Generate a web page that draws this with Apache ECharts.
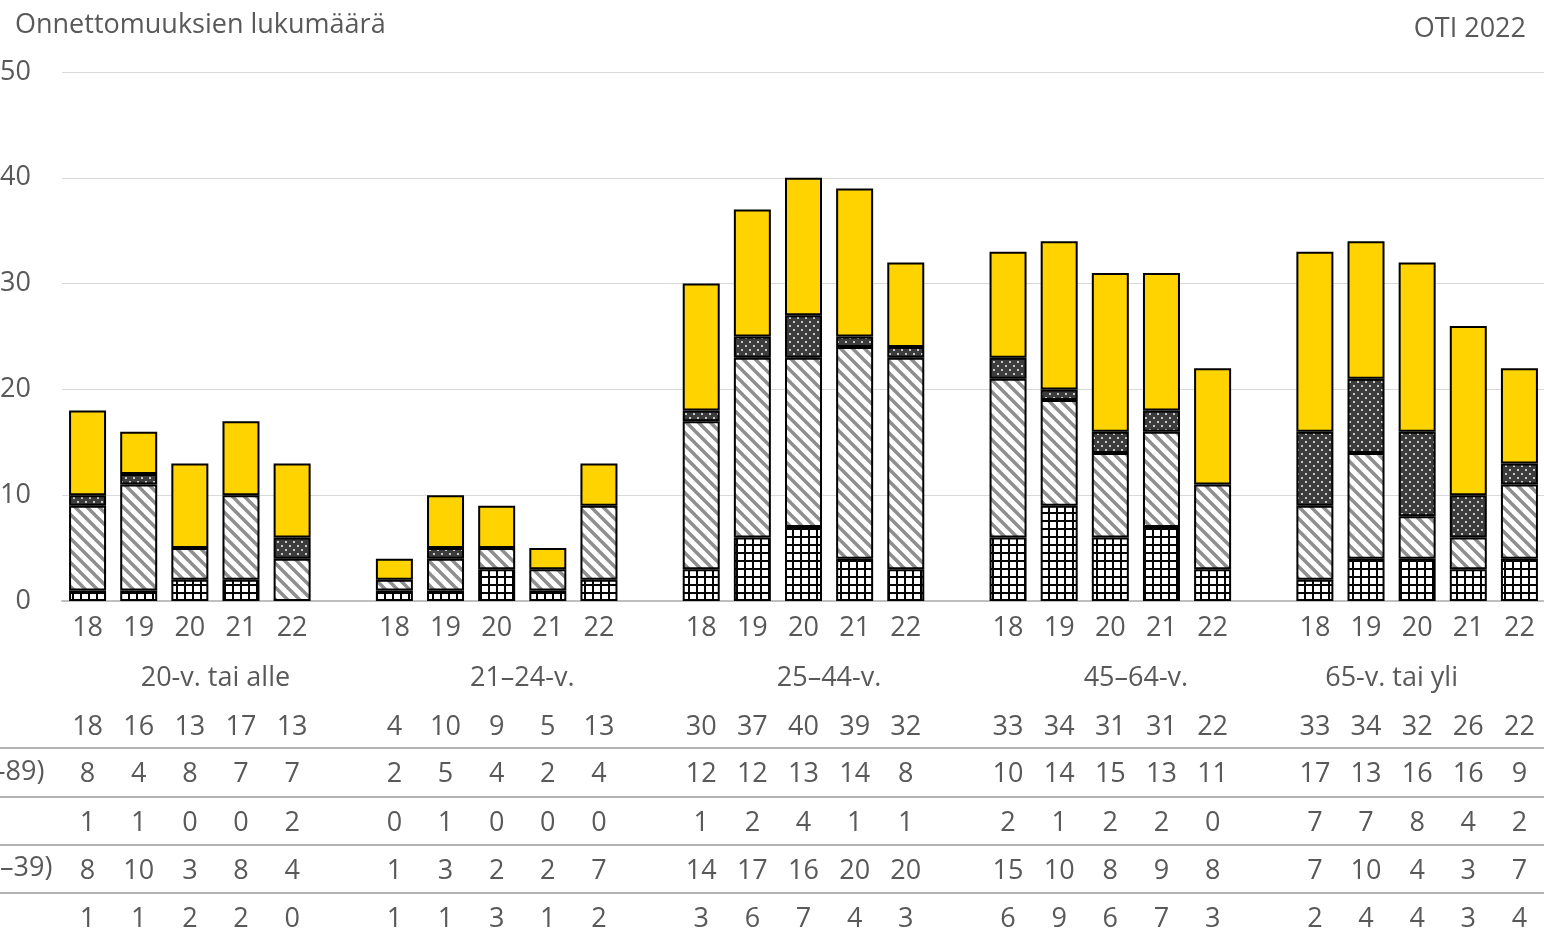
<!DOCTYPE html>
<html>
<head>
<meta charset="utf-8">
<script src="https://cdn.jsdelivr.net/npm/echarts@6/dist/echarts.min.js"></script>
<style>
  html, body { margin: 0; padding: 0; background: #fff; }
  #chart { width: 1544px; height: 939px; }
</style>
</head>
<body>
<div id="chart"></div>
<script>
// ikäryhmät ja vuodet
const groups = ['20-v. tai alle', '21–24-v.', '25–44-v.', '45–64-v.', '65-v. tai yli']
const years = ['18', '19', '20', '21', '22']
const yTicks = [0, 10, 20, 30, 40, 50]

// taulukon rivit (5 vuotta / ryhmä)
const yellowVals = [8, 4, 8, 7, 7, 2, 5, 4, 2, 4, 12, 12, 13, 14, 8, 10, 14, 15, 13, 11, 17, 13, 16, 16, 9]
const dottedVals = [1, 1, 0, 0, 2, 0, 1, 0, 0, 0, 1, 2, 4, 1, 1, 2, 1, 2, 2, 0, 7, 7, 8, 4, 2]
const hatchVals = [8, 10, 3, 8, 4, 1, 3, 2, 2, 7, 14, 17, 16, 20, 20, 15, 10, 8, 9, 8, 7, 10, 4, 3, 7]
const gridVals = [1, 1, 2, 2, 0, 1, 1, 3, 1, 2, 3, 6, 7, 4, 3, 6, 9, 6, 7, 3, 2, 4, 4, 3, 4]
const totalVals = yellowVals.map((v, i) => v + dottedVals[i] + hatchVals[i] + gridVals[i])

// ryhmän nimen paikka (rajapisteet 0..29)
const groupLabelAt = [3, 9, 15, 21, 26]

const FONT = '"Open Sans", "Noto Sans", sans-serif'
const FS = 27
const LH = 28
const TXT = '#595959'

// tyhjä väli ryhmien väliin
function toSlots (arr, blank) {
  const out = []
  arr.forEach((v, i) => {
    out.push(v)
    if (i % 5 === 4 && i < arr.length - 1) out.push(blank)
  })
  return out
}

function pattern (w, h, draw) {
  const c = document.createElement('canvas')
  c.width = w
  c.height = h
  draw(c.getContext('2d'), w, h)
  return { image: c, repeat: 'repeat' }
}

const gridFill = pattern(8, 8, (ctx, w, h) => {
  ctx.fillStyle = '#fff'
  ctx.fillRect(0, 0, w, h)
  ctx.fillStyle = '#000'
  ctx.fillRect(0, 0, 2, h)
  ctx.fillRect(0, 0, w, 2)
})
const hatchFill = pattern(12, 12, (ctx, w, h) => {
  ctx.fillStyle = '#fff'
  ctx.fillRect(0, 0, w, h)
  ctx.strokeStyle = '#8f8f8f'
  ctx.lineWidth = 3.5
  for (let k = -1; k <= 1; k++) {
    ctx.beginPath()
    ctx.moveTo(k * w - 2, -2)
    ctx.lineTo(k * w + w + 2, h + 2)
    ctx.stroke()
  }
})
const dotFill = pattern(8, 8, (ctx, w, h) => {
  ctx.fillStyle = '#3c3c3c'
  ctx.fillRect(0, 0, w, h)
  ctx.fillStyle = '#c8c8c8'
  ctx.fillRect(1, 1, 2, 2)
  ctx.fillRect(5, 5, 2, 2)
})

const categories = toSlots(groups.flatMap(() => years), '')
const groupCats = Array.from({ length: 30 }, (_, i) => {
  const g = groupLabelAt.indexOf(i)
  return g >= 0 ? groups[g] : ''
})

function barData (arr) {
  return toSlots(arr.map(v => (v === 0 ? '-' : v)), '-')
}

function labelStyle (centerY) {
  return { interval: 0, margin: centerY - 601 - LH / 2, color: TXT, fontSize: FS, lineHeight: LH, fontFamily: FONT }
}

function tableAxis (vals, centerY) {
  return {
    type: 'category',
    position: 'bottom',
    data: toSlots(vals.map(String), ''),
    axisLine: { show: false },
    axisTick: { show: false },
    axisLabel: labelStyle(centerY)
  }
}

const chart = echarts.init(document.getElementById('chart'))

const segStyle = fill => ({ color: fill, borderColor: '#000', borderWidth: 2 })
const txt = (text, pos) => ({ type: 'text', ...pos, style: { text, fill: TXT, font: FS + 'px ' + FONT } })

const option = {
  animation: false,
  backgroundColor: '#fff',
  grid: { left: 62, right: -1, top: 72, bottom: 338, outerBoundsMode: 'none', containLabel: false },
  xAxis: [
    {
      type: 'category',
      data: categories,
      axisLine: { lineStyle: { color: '#bfbfbf', width: 2 } },
      axisTick: { show: false },
      axisLabel: labelStyle(628)
    },
    {
      type: 'category',
      data: groupCats,
      boundaryGap: false,
      position: 'bottom',
      axisLine: { show: false },
      axisTick: { show: false },
      axisLabel: labelStyle(678)
    },
    tableAxis(totalVals, 727),
    tableAxis(yellowVals, 774),
    tableAxis(dottedVals, 823),
    tableAxis(hatchVals, 871),
    tableAxis(gridVals, 919)
  ],
  yAxis: {
    type: 'value',
    min: yTicks[0],
    max: yTicks[yTicks.length - 1],
    interval: 10,
    axisLine: { show: false },
    axisTick: { show: false },
    splitLine: { lineStyle: { color: '#d9d9d9', width: 1 } },
    axisLabel: { margin: 31, color: TXT, fontSize: FS, fontFamily: FONT }
  },
  graphic: [
    txt('Onnettomuuksien lukumäärä', { left: 15, top: 12 }),
    txt('OTI 2022', { right: 18, top: 16 }),
    txt('–89)', { left: -8, top: 759 }),
    txt('–39)', { left: 0, top: 855 }),
    ...[748, 797, 845, 893].map(y => ({
      type: 'line',
      shape: { x1: 0, y1: y, x2: 1544, y2: y },
      style: { stroke: '#9a9a9a', lineWidth: 1.5 }
    }))
  ],
  series: [
    { name: 'ruudukko', type: 'bar', stack: 'a', barWidth: 37, data: barData(gridVals), itemStyle: segStyle(gridFill) },
    { name: 'vino', type: 'bar', stack: 'a', data: barData(hatchVals), itemStyle: segStyle(hatchFill) },
    { name: 'piste', type: 'bar', stack: 'a', data: barData(dottedVals), itemStyle: segStyle(dotFill) },
    { name: 'keltainen', type: 'bar', stack: 'a', data: barData(yellowVals), itemStyle: segStyle('#ffd300') }
  ]
}

chart.setOption(option)
</script>
</body>
</html>
